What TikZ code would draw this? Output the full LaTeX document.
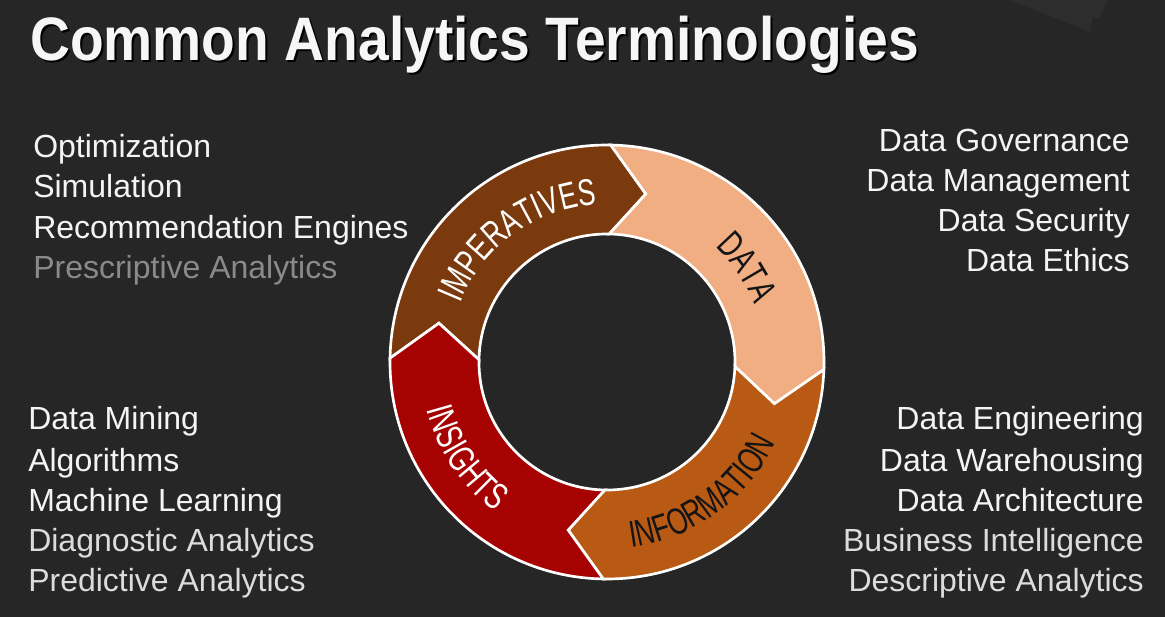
\documentclass[tikz,border=0pt]{standalone}
\usepackage{fontspec}
\setmainfont{Liberation Sans}
\newfontfamily\titlefont[FakeStretch=0.9]{Liberation Sans}
\newfontfamily\ringfont[FakeStretch=0.71]{Liberation Sans}
\usetikzlibrary{decorations.text}

\definecolor{bgcol}{HTML}{262626}
\definecolor{hexcol}{HTML}{2D2D2D}
\definecolor{impcol}{HTML}{7B3A0E}
\definecolor{datacol}{HTML}{F0AE82}
\definecolor{infocol}{HTML}{B85A14}
\definecolor{inscol}{HTML}{A60202}
\definecolor{termcol}{HTML}{F4F4F4}
\definecolor{softcol}{HTML}{DCDCDC}
\definecolor{dimcol}{HTML}{8A8A8A}
\definecolor{inkcol}{HTML}{141414}

\tikzset{
  segment/.style={draw=white, line width=2pt, line join=miter},
  term/.style={inner sep=0pt, font=\fontsize{24}{28}\selectfont, text=termcol},
  termL/.style={term, anchor=base west},
  termR/.style={term, anchor=base east},
  ringlabel/.style={decorate, decoration={text along path, text align=center,
      text={|\ringfont\fontsize{28}{32}\selectfont|#1}}},
}

\begin{document}
\begin{tikzpicture}[x=0.75pt,y=0.75pt]
  % backdrop
  \fill[bgcol] (0,0) rectangle (1165,617);
  \useasboundingbox (0,0) rectangle (1165,617);
  \fill[hexcol] (1008,617) -- (1040,605) -- (1090,585) -- (1095,617) -- cycle;
  \fill[hexcol] (1060,617) -- (1107,617) -- (1100,598) -- (1045,612) -- cycle;

  % title
  \node[anchor=base west, inner sep=0pt, text=black] at (32,554)
    {\titlefont\bfseries\fontsize{46}{50}\selectfont Common Analytics Terminologies};
  \node[anchor=base west, inner sep=0pt, text=white!93!gray] (title) at (30,556)
    {\titlefont\bfseries\fontsize{46}{50}\selectfont Common Analytics Terminologies};

  % cycle ring
  \begin{scope}[shift={(607,255)}]
    \foreach \a/\b/\col in {179/89/impcol, 89/-2/datacol, -2/-91/infocol, -91/-181/inscol}
      \filldraw[segment, fill=\col]
        (\a:217) arc[start angle=\a, end angle=\b, radius=217]
        -- (\b-12:172.5) -- (\b:128)
        arc[start angle=\b, end angle=\a, radius=128]
        -- (\a-12:172.5) -- cycle;

    \path[ringlabel=IMPERATIVES, decoration={text color=white}]
      (176:158) arc[start angle=176, end angle=76, radius=158];
    \path[ringlabel=DATA, decoration={text color=inkcol}]
      (84:158) arc[start angle=84, end angle=-16, radius=158];
    \path[ringlabel=INFORMATION, decoration={text color=inkcol}]
      (-104:187) arc[start angle=-104, end angle=-4, radius=187];
    \path[ringlabel=INSIGHTS, decoration={text color=white}]
      (164:187) arc[start angle=164, end angle=264, radius=187];
  \end{scope}

  % prescriptive side
  \node[termL] (opt) at (33,459) {Optimization};
  \node[termL] (sim) at (33,419) {Simulation};
  \node[termL] (rec) at (33,378) {Recommendation Engines};
  \node[termL, text=dimcol] (pre) at (33,338) {Prescriptive Analytics};

  % data side
  \node[termR] (gov) at (1130,465) {Data Governance};
  \node[termR] (man) at (1130,425) {Data Management};
  \node[termR] (sec) at (1130,385) {Data Security};
  \node[termR] (eth) at (1130,345) {Data Ethics};

  % insights side
  \node[termL] (min) at (28,187) {Data Mining};
  \node[termL] (alg) at (28,145) {Algorithms};
  \node[termL] (mac) at (28,105) {Machine Learning};
  \node[termL, text=softcol] (dia) at (28,65) {Diagnostic Analytics};
  \node[termL, text=softcol] (prd) at (28,25) {Predictive Analytics};

  % information side
  \node[termR] (eng) at (1144,187) {Data Engineering};
  \node[termR] (war) at (1144,145) {Data Warehousing};
  \node[termR] (arc) at (1144,105) {Data Architecture};
  \node[termR, text=softcol] (bus) at (1144,65) {Business Intelligence};
  \node[termR, text=softcol] (des) at (1144,25) {Descriptive Analytics};
\end{tikzpicture}
\end{document}
